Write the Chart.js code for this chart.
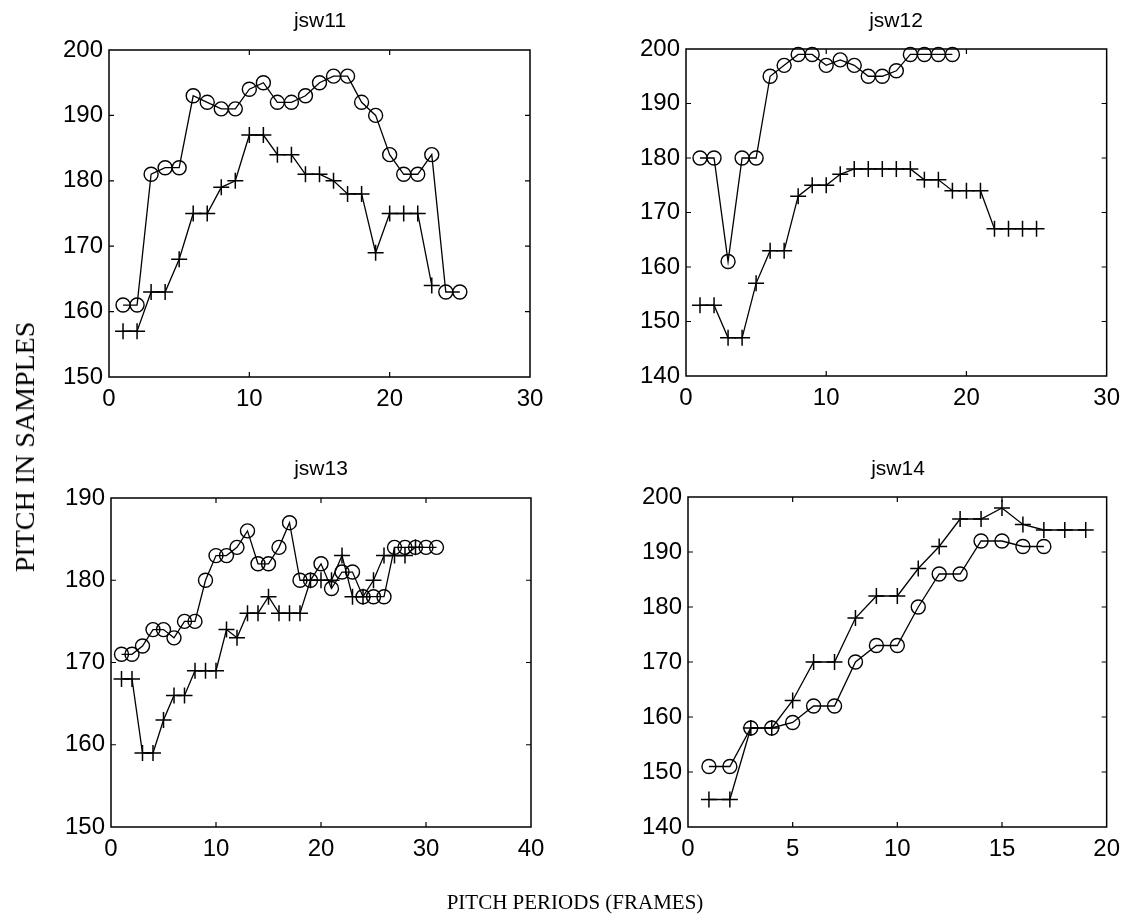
<!DOCTYPE html>
<html>
<head>
<meta charset="utf-8">
<script src="https://cdn.jsdelivr.net/npm/chart.js@4.4.1/dist/chart.umd.min.js"></script>
<style>
  body { margin: 0; background: #fff; }
  #fig { position: relative; width: 1128px; height: 924px; background: #fff; overflow: hidden; }
  .box { position: absolute; }
  .ttl { position: absolute; font-family: 'Liberation Sans', Arial, sans-serif; font-size: 21px; color: #000; transform: translateX(-50%); white-space: nowrap; }
  .lbl { position: absolute; font-family: 'Liberation Serif', 'Times New Roman', serif; font-size: 21px; color: #000; white-space: nowrap; }
</style>
</head>
<body>
<div id="fig">
  <div class="box" style="left:0;top:0;width:564px;height:440px"><canvas id="c11"></canvas></div>
  <div class="box" style="left:564px;top:0;width:564px;height:440px"><canvas id="c12"></canvas></div>
  <div class="box" style="left:0;top:440px;width:564px;height:484px"><canvas id="c13"></canvas></div>
  <div class="box" style="left:564px;top:440px;width:564px;height:484px"><canvas id="c14"></canvas></div>
  <div class="ttl" style="left:320px;top:8px">jsw11</div>
  <div class="ttl" style="left:896px;top:8px">jsw12</div>
  <div class="ttl" style="left:321px;top:456px">jsw13</div>
  <div class="ttl" style="left:898px;top:456px">jsw14</div>
  <div class="lbl" style="left:25px;top:447px;font-size:28px;transform:translate(-50%,-50%) rotate(-90deg)">PITCH IN SAMPLES</div>
  <div class="lbl" style="left:575px;top:890px;transform:translateX(-50%)">PITCH PERIODS (FRAMES)</div>
</div>
<script>
// pitch estimates per frame (frame number = index + 1)
const jsw11Circle = [161, 161, 181, 182, 182, 193, 192, 191, 191, 194, 195, 192, 192, 193, 195, 196, 196, 192, 190, 184, 181, 181, 184, 163, 163];
const jsw11Plus = [157, 157, 163, 163, 168, 175, 175, 179, 180, 187, 187, 184, 184, 181, 181, 180, 178, 178, 169, 175, 175, 175, 164];

const jsw12Circle = [180, 180, 161, 180, 180, 195, 197, 199, 199, 197, 198, 197, 195, 195, 196, 199, 199, 199, 199];
const jsw12Plus = [153, 153, 147, 147, 157, 163, 163, 173, 175, 175, 177, 178, 178, 178, 178, 178, 176, 176, 174, 174, 174, 167, 167, 167, 167];

const jsw13Circle = [171, 171, 172, 174, 174, 173, 175, 175, 180, 183, 183, 184, 186, 182, 182, 184, 187, 180, 180, 182, 179, 181, 181, 178, 178, 178, 184, 184, 184, 184, 184];
const jsw13Plus = [168, 168, 159, 159, 163, 166, 166, 169, 169, 169, 174, 173, 176, 176, 178, 176, 176, 176, 180, 180, 180, 183, 178, 178, 180, 183, 183, 183, 184];

const jsw14Circle = [151, 151, 158, 158, 159, 162, 162, 170, 173, 173, 180, 186, 186, 192, 192, 191, 191];
const jsw14Plus = [145, 145, 158, 158, 163, 170, 170, 178, 182, 182, 187, 191, 196, 196, 198, 195, 194, 194, 194];

function toPoints(arr) {
  return arr.map((v, i) => ({ x: i + 1, y: v }));
}

// box around the axes + inward tick marks, like matlab
const boxTicks = {
  id: 'boxTicks',
  afterDraw(chart) {
    const { ctx, chartArea: a, scales } = chart;
    const len = 5;
    ctx.save();
    ctx.strokeStyle = '#000';
    ctx.lineWidth = 1.5;
    ctx.strokeRect(a.left, a.top, a.right - a.left, a.bottom - a.top);
    ctx.lineWidth = 1.2;
    ctx.beginPath();
    scales.x.ticks.forEach(t => {
      const px = scales.x.getPixelForValue(t.value);
      if (px <= a.left + 1 || px >= a.right - 1) return;
      ctx.moveTo(px, a.bottom); ctx.lineTo(px, a.bottom - len);
      ctx.moveTo(px, a.top); ctx.lineTo(px, a.top + len);
    });
    scales.y.ticks.forEach(t => {
      const py = scales.y.getPixelForValue(t.value);
      if (py <= a.top + 1 || py >= a.bottom - 1) return;
      ctx.moveTo(a.left, py); ctx.lineTo(a.left + len, py);
      ctx.moveTo(a.right, py); ctx.lineTo(a.right - len, py);
    });
    ctx.stroke();
    ctx.restore();
  }
};

function makeChart(id, circ, plus, opt) {
  const tickFont = { family: "'Liberation Sans', Arial, sans-serif", size: 24 };
  return new Chart(document.getElementById(id), {
    type: 'line',
    data: {
      datasets: [{
        data: toPoints(circ),
        borderColor: '#000',
        borderWidth: 1.3,
        pointStyle: 'circle',
        pointRadius: 7,
        pointBorderWidth: 1.4,
        pointBorderColor: '#000',
        pointBackgroundColor: 'rgba(0,0,0,0)',
        tension: 0,
        clip: false
      }, {
        data: toPoints(plus),
        borderColor: '#000',
        borderWidth: 1.3,
        pointStyle: 'cross',
        pointRadius: 8,
        pointBorderWidth: 1.5,
        pointBorderColor: '#000',
        tension: 0,
        clip: false
      }]
    },
    options: {
      responsive: true,
      maintainAspectRatio: false,
      animation: false,
      layout: { padding: { top: opt.top, right: opt.right, left: 0, bottom: 0 } },
      plugins: { legend: { display: false }, tooltip: { enabled: false }, title: { display: false } },
      scales: {
        x: {
          type: 'linear',
          min: 0, max: opt.xMax,
          grid: { display: false, drawTicks: false },
          border: { display: false },
          ticks: { stepSize: opt.xStep, color: '#000', font: tickFont, padding: 8, maxRotation: 0 },
          afterFit: s => { s.height = opt.xH; }
        },
        y: {
          min: opt.yMin, max: opt.yMax,
          grid: { display: false, drawTicks: false },
          border: { display: false },
          ticks: { stepSize: 10, color: '#000', font: tickFont, padding: 6 },
          afterFit: s => { s.width = opt.yW; }
        }
      }
    },
    plugins: [boxTicks]
  });
}

makeChart('c11', jsw11Circle, jsw11Plus, { top: 50, right: 34, xH: 63, yW: 109, xMax: 30, xStep: 10, yMin: 150, yMax: 200 });
makeChart('c12', jsw12Circle, jsw12Plus, { top: 49, right: 21, xH: 64, yW: 122, xMax: 30, xStep: 10, yMin: 140, yMax: 200 });
makeChart('c13', jsw13Circle, jsw13Plus, { top: 58, right: 33, xH: 97, yW: 111, xMax: 40, xStep: 10, yMin: 150, yMax: 190 });
makeChart('c14', jsw14Circle, jsw14Plus, { top: 57, right: 20, xH: 97, yW: 124, xMax: 20, xStep: 5, yMin: 140, yMax: 200 });
</script>
</body>
</html>
